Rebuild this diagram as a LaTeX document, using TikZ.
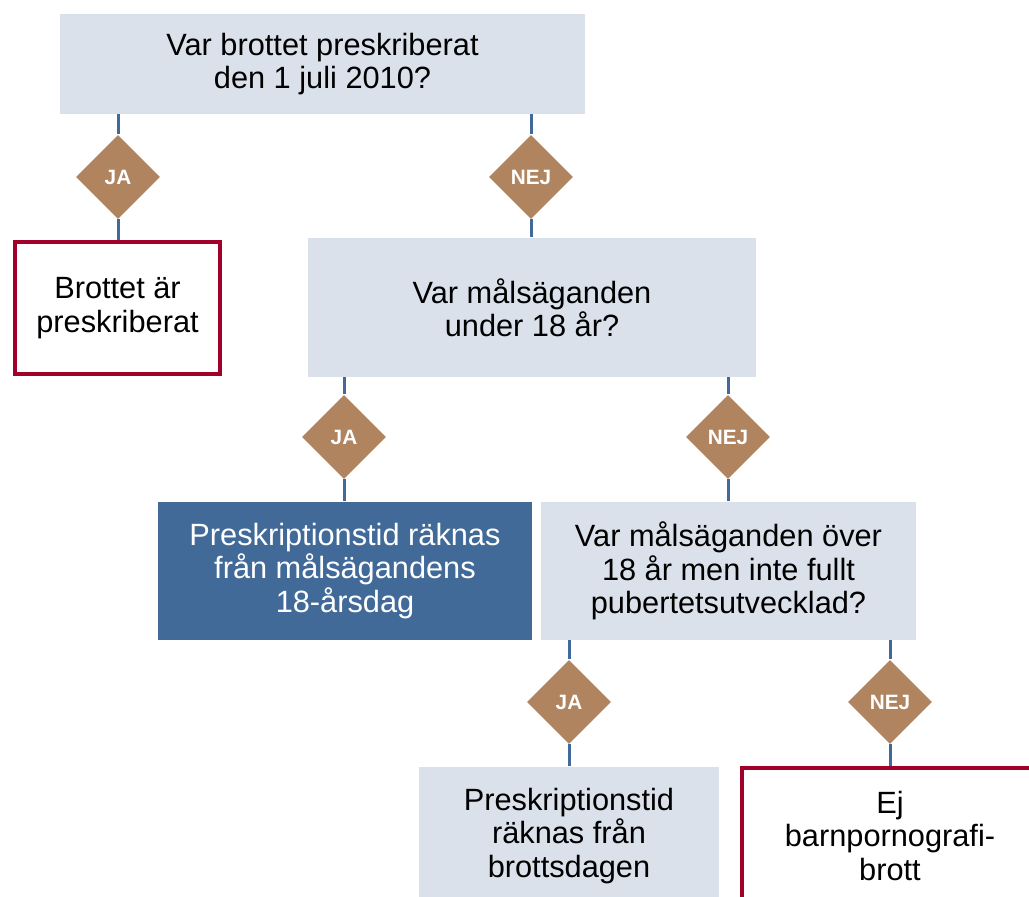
\documentclass[tikz,border=0pt]{standalone}
\usepackage{fontspec}
\setmainfont{Liberation Sans}
\usetikzlibrary{shapes.geometric}
\definecolor{qfill}{HTML}{DAE1EA}
\definecolor{afill}{HTML}{426A98}
\definecolor{dfill}{HTML}{B0845F}
\definecolor{lnblue}{HTML}{3F6A9B}
\definecolor{stopred}{HTML}{A0002A}

\begin{document}
\begin{tikzpicture}[x=0.4pt,y=-0.4pt,
  qbox/.style={fill=qfill,align=center,inner sep=0pt,font=\fontsize{12.3}{13.3}\selectfont},
  abox/.style={fill=afill,text=white,align=center,inner sep=0pt,font=\fontsize{12.3}{13.3}\selectfont},
  stopbox/.style={draw=stopred,line width=1.6pt,fill=white,align=center,inner sep=0pt,font=\fontsize{12.3}{13.3}\selectfont},
  choice/.style={diamond,fill=dfill,text=white,minimum size=33.6pt,inner sep=0pt,font=\fontsize{8.3}{9}\bfseries\selectfont},
  conn/.style={draw=lnblue,line width=1.2pt}]
  \useasboundingbox (0,0) rectangle (1029,897);
  \clip (0,0) rectangle (1029,897);

  \node(q1)[qbox,minimum width=210pt,minimum height=40pt] at (322.5,64) {Var brottet preskriberat\\den 1 juli 2010?};
  \node(r1)[stopbox,minimum width=82pt,minimum height=52.8pt] at (117.5,308) {Brottet är\\preskriberat};
  \node(q2)[qbox,minimum width=179.2pt,minimum height=55.6pt] at (532,307.5) {Var målsäganden\\under 18 år?};
  \node(a1)[abox,minimum width=149.6pt,minimum height=55.2pt] at (345,571) {Preskriptionstid räknas\\från målsägandens\\18-årsdag};
  \node(q3)[qbox,minimum width=150pt,minimum height=55.2pt] at (728.5,571) {Var målsäganden över\\18 år men inte fullt\\pubertetsutvecklad?};
  \node(a2)[qbox,minimum width=120pt,minimum height=55.2pt] at (569,836) {Preskriptionstid\\räknas från\\brottsdagen};
  \node(r2)[stopbox,minimum width=118.4pt,minimum height=54.4pt] at (890,836) {Ej\\barnpornografi-\\brott};

  \node(d1)[choice] at (118,177) {JA};
  \node(d2)[choice] at (531,177) {NEJ};
  \node(d3)[choice] at (344,437) {JA};
  \node(d4)[choice] at (728,437) {NEJ};
  \node(d5)[choice] at (569,702) {JA};
  \node(d6)[choice] at (890,702) {NEJ};

  \draw[conn] (q1.south -| d1) -- (d1.north);
  \draw[conn] (d1.south) -- (r1.north -| d1);
  \draw[conn] (q1.south -| d2) -- (d2.north);
  \draw[conn] (d2.south) -- (q2.north -| d2);
  \draw[conn] (q2.south -| d3) -- (d3.north);
  \draw[conn] (d3.south) -- (a1.north -| d3);
  \draw[conn] (q2.south -| d4) -- (d4.north);
  \draw[conn] (d4.south) -- (q3.north -| d4);
  \draw[conn] (q3.south -| d5) -- (d5.north);
  \draw[conn] (d5.south) -- (a2.north -| d5);
  \draw[conn] (q3.south -| d6) -- (d6.north);
  \draw[conn] (d6.south) -- (r2.north -| d6);
\end{tikzpicture}
\end{document}
